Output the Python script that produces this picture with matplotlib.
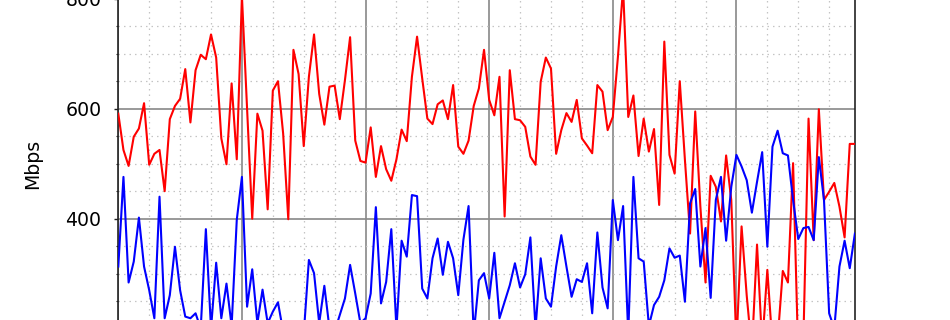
import matplotlib
matplotlib.use("Agg")
import matplotlib.pyplot as plt
from matplotlib.ticker import MultipleLocator

hours = list(range(144))

red = [591, 525, 496, 549, 564, 610, 498, 518, 525, 450, 581, 605, 618, 672, 575, 670,
       698, 690, 735, 693, 546, 499, 646, 508, 805, 600, 400, 591, 560, 417, 633, 650,
       555, 399, 707, 663, 532, 658, 735, 627, 571, 640, 642, 581, 652, 730, 542, 505,
       502, 566, 476, 532, 490, 469, 508, 562, 541, 658, 731, 655, 582, 572, 608, 615,
       581, 643, 531, 518, 542, 605, 637, 707, 616, 588, 658, 404, 670, 581, 579, 567,
       513, 498, 649, 693, 673, 518, 561, 592, 576, 616, 546, 533, 519, 643, 631, 561,
       585, 695, 820, 585, 624, 514, 582, 522, 563, 425, 722, 516, 482, 650, 507, 373,
       595, 422, 284, 478, 458, 395, 515, 434, 170, 386, 260, 160, 353, 170, 307, 170,
       180, 305, 284, 501, 150, 180, 582, 361, 599, 434, 449, 465, 422, 366, 536, 536]

blue = [313, 476, 284, 322, 402, 313, 270, 219, 440, 219, 261, 349, 270, 222, 219, 228,
        200, 381, 200, 320, 219, 282, 205, 398, 476, 240, 308, 210, 271, 210, 231, 248,
        195, 185, 200, 190, 190, 325, 301, 210, 278, 200, 195, 225, 255, 316, 264, 210,
        219, 264, 421, 246, 285, 381, 200, 360, 331, 443, 441, 273, 255, 328, 364, 298,
        358, 328, 261, 362, 423, 190, 288, 301, 255, 338, 219, 249, 279, 319, 275, 299,
        366, 200, 328, 255, 240, 313, 370, 313, 258, 290, 285, 319, 228, 375, 275, 237,
        434, 361, 423, 190, 476, 328, 322, 205, 243, 258, 288, 346, 329, 333, 249, 428,
        454, 313, 383, 256, 434, 476, 360, 458, 516, 495, 470, 411, 467, 521, 349, 531,
        560, 519, 515, 434, 363, 383, 385, 361, 512, 434, 228, 200, 313, 360, 310, 373]

W, H = 950, 320
fig = plt.figure(figsize=(W / 100, H / 100), dpi=100)
left_px, right_px = 118.3, 854.9
y0_px = 438.7   # pixel row of 0 Mbps
y1000_px = 438.7 - 550.0
ax = fig.add_axes([left_px / W, 1 - y0_px / H, (right_px - left_px) / W, (y0_px - y1000_px) / H])

ax.plot(hours, red, color="#ff0000", lw=1.5, zorder=3)
ax.plot(hours, blue, color="#0000ff", lw=1.5, zorder=3)

ax.set_xlim(0, 143)
ax.set_ylim(0, 1000)
ax.xaxis.set_major_locator(MultipleLocator(24))
ax.xaxis.set_minor_locator(MultipleLocator(6))
ax.yaxis.set_major_locator(MultipleLocator(200))
ax.yaxis.set_minor_locator(MultipleLocator(50))

ax.grid(which="major", color="#888888", lw=1.2, ls="-", zorder=1)
ax.grid(which="minor", color="#c4c4c4", lw=0.9, ls=(0, (1.2, 3.2)), zorder=1)
ax.set_axisbelow(True)

for s in ax.spines.values():
    s.set_color("#222222")
    s.set_linewidth(1.2)

ax.tick_params(axis="y", which="major", length=2.6, width=1.0, pad=9.5, labelsize=13.6, color="#222222")
ax.tick_params(axis="y", which="minor", length=1.6, width=0.8, color="#222222")
ax.tick_params(axis="x", which="both", labelbottom=False, length=0)

ax.set_ylabel("Mbps", fontsize=13.6)
ax.yaxis.set_label_coords((33 - left_px) / (right_px - left_px), 0.5)
ax.yaxis.label.set_verticalalignment("center")

fig.savefig("out.png", dpi=100)
